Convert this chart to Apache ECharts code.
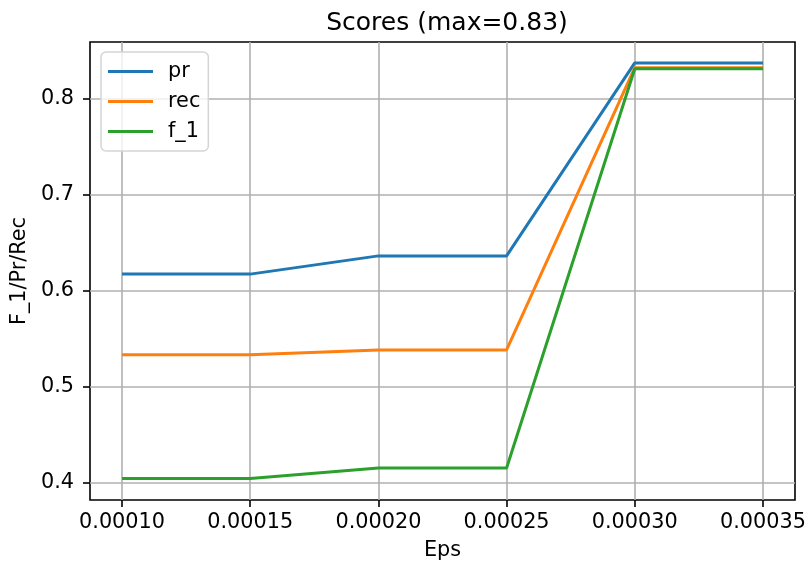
<!DOCTYPE html>
<html>
<head>
<meta charset="utf-8">
<script src="https://cdn.jsdelivr.net/npm/echarts@6/dist/echarts.min.js"></script>
<style>html,body{margin:0;padding:0;background:#fff}#c{width:809px;height:569px}</style>
</head>
<body>
<div id="c"></div>
<script>
const eps = [0.0001, 0.00015, 0.0002, 0.00025, 0.0003, 0.00035];
const pr  = [0.617, 0.617, 0.636, 0.636, 0.837, 0.837];
const rec = [0.533, 0.533, 0.538, 0.538, 0.832, 0.832];
const f1  = [0.404, 0.404, 0.415, 0.415, 0.831, 0.831];
const xTicks = [0.0001, 0.00015, 0.0002, 0.00025, 0.0003, 0.00035];
const yTicks = [0.4, 0.5, 0.6, 0.7, 0.8];
const seriesNames = ['pr', 'rec', 'f_1'];
const colors = ['#1f77b4', '#ff7f0e', '#2ca02c'];

const font = 'DejaVu Sans';
const fs = 20.8;
const chart = echarts.init(document.getElementById('c'), null, {renderer: 'canvas'});
const mk = (name, vals, color) => ({
  name, type: 'line', data: eps.map((x, i) => [x, vals[i]]),
  showSymbol: false, symbol: 'none', lineStyle: {color, width: 3}, itemStyle: {color},
  emphasis: {disabled: true}, animation: false
});
chart.setOption({
  animation: false,
  backgroundColor: '#fff',
  title: {text: 'Scores (max=0.83)', left: 442, top: 6, textAlign: 'center',
    textStyle: {fontFamily: font, fontSize: 25, fontWeight: 'normal', color: '#000'}},
  grid: {left: 90, right: 14, top: 42, bottom: 69, show: true, borderColor: '#000', borderWidth: 1.6, containLabel: false},
  legend: {orient: 'vertical', left: 101, top: 52, data: seriesNames,
    icon: 'rect', itemWidth: 45, itemHeight: 3, itemGap: 9,
    padding: [9, 8, 9, 7], borderColor: '#d5d5d5', borderWidth: 1.5, borderRadius: 5,
    backgroundColor: 'rgba(255,255,255,0.8)',
    textStyle: {fontFamily: font, fontSize: fs, color: '#000', padding: [0, 0, 0, 10]}},
  xAxis: {type: 'value', min: 0.0000875, max: 0.0003625,
    name: 'Eps', nameLocation: 'middle', nameGap: 40,
    nameTextStyle: {fontFamily: font, fontSize: fs, color: '#000'},
    axisLine: {show: false},
    axisTick: {show: true, length: 7, inside: false, customValues: xTicks, lineStyle: {color: '#000', width: 1.6}},
    axisLabel: {customValues: xTicks, formatter: v => v.toFixed(5), fontFamily: font, fontSize: fs, color: '#000', margin: 12},
    splitLine: {show: true, lineStyle: {color: '#b0b0b0', width: 1.6}}},
  yAxis: {type: 'value', min: 0.3817, max: 0.8588,
    name: 'F_1/Pr/Rec', nameLocation: 'middle', nameGap: 54, nameRotate: 90,
    nameTextStyle: {fontFamily: font, fontSize: fs, color: '#000'},
    axisLine: {show: false},
    axisTick: {show: true, length: 7, inside: false, customValues: yTicks, lineStyle: {color: '#000', width: 1.6}},
    axisLabel: {customValues: yTicks, formatter: v => v.toFixed(1), fontFamily: font, fontSize: fs, color: '#000', margin: 16},
    splitLine: {show: true, lineStyle: {color: '#b0b0b0', width: 1.6}}},
  series: [mk(seriesNames[0], pr, colors[0]), mk(seriesNames[1], rec, colors[1]), mk(seriesNames[2], f1, colors[2])]
});
</script>
</body>
</html>
